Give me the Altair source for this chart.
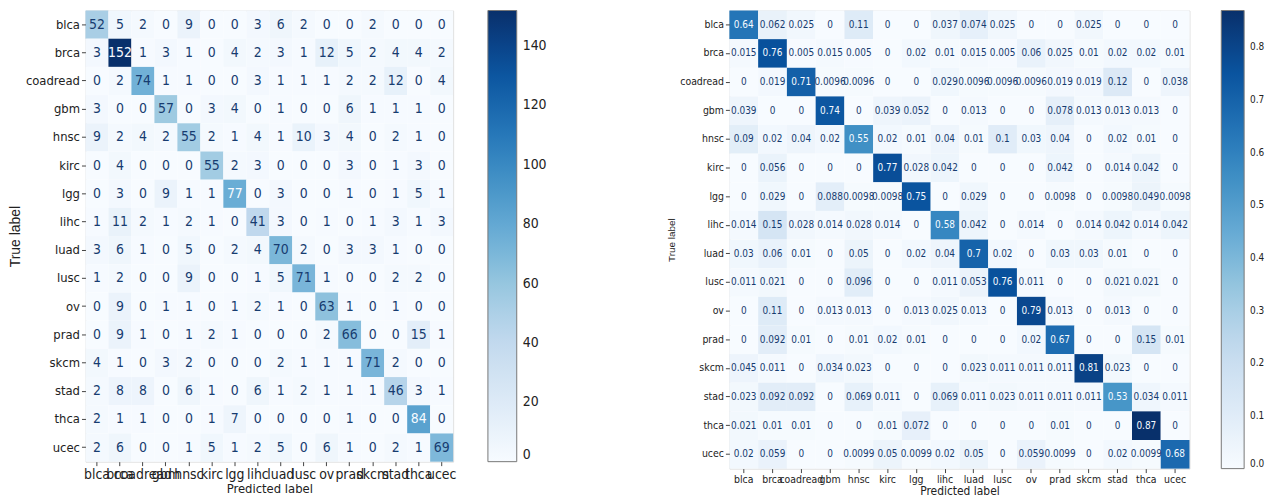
import altair as alt
import numpy as np
import pandas as pd

# Cancer types, in the order used on both axes
classes = ["blca", "brca", "coadread", "gbm", "hnsc", "kirc", "lgg", "lihc",
           "luad", "lusc", "ov", "prad", "skcm", "stad", "thca", "ucec"]

# Confusion matrix counts (rows = true label, columns = predicted label)
counts = [
    [52, 5, 2, 0, 9, 0, 0, 3, 6, 2, 0, 0, 2, 0, 0, 0],
    [3, 152, 1, 3, 1, 0, 4, 2, 3, 1, 12, 5, 2, 4, 4, 2],
    [0, 2, 74, 1, 1, 0, 0, 3, 1, 1, 1, 2, 2, 12, 0, 4],
    [3, 0, 0, 57, 0, 3, 4, 0, 1, 0, 0, 6, 1, 1, 1, 0],
    [9, 2, 4, 2, 55, 2, 1, 4, 1, 10, 3, 4, 0, 2, 1, 0],
    [0, 4, 0, 0, 0, 55, 2, 3, 0, 0, 0, 3, 0, 1, 3, 0],
    [0, 3, 0, 9, 1, 1, 77, 0, 3, 0, 0, 1, 0, 1, 5, 1],
    [1, 11, 2, 1, 2, 1, 0, 41, 3, 0, 1, 0, 1, 3, 1, 3],
    [3, 6, 1, 0, 5, 0, 2, 4, 70, 2, 0, 3, 3, 1, 0, 0],
    [1, 2, 0, 0, 9, 0, 0, 1, 5, 71, 1, 0, 0, 2, 2, 0],
    [0, 9, 0, 1, 1, 0, 1, 2, 1, 0, 63, 1, 0, 1, 0, 0],
    [0, 9, 1, 0, 1, 2, 1, 0, 0, 0, 2, 66, 0, 0, 15, 1],
    [4, 1, 0, 3, 2, 0, 0, 0, 2, 1, 1, 1, 71, 2, 0, 0],
    [2, 8, 8, 0, 6, 1, 0, 6, 1, 2, 1, 1, 1, 46, 3, 1],
    [2, 1, 1, 0, 0, 1, 7, 0, 0, 0, 0, 1, 0, 0, 84, 0],
    [2, 6, 0, 0, 1, 5, 1, 2, 5, 0, 6, 1, 0, 2, 1, 69],
]

# Row-normalised confusion matrix
normalized = [
    [0.64, 0.062, 0.025, 0, 0.11, 0, 0, 0.037, 0.074, 0.025, 0, 0, 0.025, 0, 0, 0],
    [0.015, 0.76, 0.005, 0.015, 0.005, 0, 0.02, 0.01, 0.015, 0.005, 0.06, 0.025, 0.01, 0.02, 0.02, 0.01],
    [0, 0.019, 0.71, 0.0096, 0.0096, 0, 0, 0.029, 0.0096, 0.0096, 0.0096, 0.019, 0.019, 0.12, 0, 0.038],
    [0.039, 0, 0, 0.74, 0, 0.039, 0.052, 0, 0.013, 0, 0, 0.078, 0.013, 0.013, 0.013, 0],
    [0.09, 0.02, 0.04, 0.02, 0.55, 0.02, 0.01, 0.04, 0.01, 0.1, 0.03, 0.04, 0, 0.02, 0.01, 0],
    [0, 0.056, 0, 0, 0, 0.77, 0.028, 0.042, 0, 0, 0, 0.042, 0, 0.014, 0.042, 0],
    [0, 0.029, 0, 0.088, 0.0098, 0.0098, 0.75, 0, 0.029, 0, 0, 0.0098, 0, 0.0098, 0.049, 0.0098],
    [0.014, 0.15, 0.028, 0.014, 0.028, 0.014, 0, 0.58, 0.042, 0, 0.014, 0, 0.014, 0.042, 0.014, 0.042],
    [0.03, 0.06, 0.01, 0, 0.05, 0, 0.02, 0.04, 0.7, 0.02, 0, 0.03, 0.03, 0.01, 0, 0],
    [0.011, 0.021, 0, 0, 0.096, 0, 0, 0.011, 0.053, 0.76, 0.011, 0, 0, 0.021, 0.021, 0],
    [0, 0.11, 0, 0.013, 0.013, 0, 0.013, 0.025, 0.013, 0, 0.79, 0.013, 0, 0.013, 0, 0],
    [0, 0.092, 0.01, 0, 0.01, 0.02, 0.01, 0, 0, 0, 0.02, 0.67, 0, 0, 0.15, 0.01],
    [0.045, 0.011, 0, 0.034, 0.023, 0, 0, 0, 0.023, 0.011, 0.011, 0.011, 0.81, 0.023, 0, 0],
    [0.023, 0.092, 0.092, 0, 0.069, 0.011, 0, 0.069, 0.011, 0.023, 0.011, 0.011, 0.011, 0.53, 0.034, 0.011],
    [0.021, 0.01, 0.01, 0, 0, 0.01, 0.072, 0, 0, 0, 0, 0.01, 0, 0, 0.87, 0],
    [0.02, 0.059, 0, 0, 0.0099, 0.05, 0.0099, 0.02, 0.05, 0, 0.059, 0.0099, 0, 0.02, 0.0099, 0.68],
]

BLUES = ["#f7fbff", "#deebf7", "#c6dbef", "#9ecae1", "#6baed6",
         "#4292c6", "#2171b5", "#08519c", "#08306b"]
NARROW = "Liberation Sans Narrow, DejaVu Sans Condensed, DejaVu Sans"
TEXT = "#222222"
DARK_CELL_TEXT = "#173c70"
LIGHT_CELL_TEXT = "#f7fbff"


def long_table(matrix):
    rows = []
    for i, t in enumerate(classes):
        for j, p in enumerate(classes):
            rows.append({"true": t, "pred": p, "value": matrix[i][j]})
    return pd.DataFrame(rows)


def panel(matrix, width, height, label_size, xlabel_size, cell_size, title_size,
          ytitle_size, legend_values, legend_format, legend_offset,
          legend_thickness, legend_label_size, cell_format):
    df = long_table(matrix)
    vmax = float(np.max(matrix))
    vmin = float(np.min(matrix))
    stops = list(np.linspace(vmin, vmax, len(BLUES)))
    threshold = (vmax + vmin) / 2.0

    x_enc = alt.X("pred:O", sort=classes, scale=alt.Scale(paddingInner=0, paddingOuter=0),
                  axis=alt.Axis(title="Predicted label", labelAngle=0, labelFont=NARROW,
                                labelFontSize=xlabel_size, labelColor=TEXT, labelOverlap=False,
                                labelPadding=2, tickSize=4, tickColor="#444", domain=False,
                                titleFont=NARROW, titleFontSize=title_size,
                                titleFontWeight="normal", titleColor=TEXT, titlePadding=1))
    y_enc = alt.Y("true:O", sort=classes, scale=alt.Scale(paddingInner=0, paddingOuter=0),
                  axis=alt.Axis(title="True label", labelFont=NARROW, labelFontSize=label_size,
                                labelColor=TEXT, labelPadding=2, tickSize=4, tickColor="#444",
                                domain=False, titleFont="Liberation Sans",
                                titleFontSize=ytitle_size, titleFontWeight="normal",
                                titleColor=TEXT, titlePadding=3))

    cells = alt.Chart(df).mark_rect().encode(
        x=x_enc, y=y_enc,
        color=alt.Color("value:Q",
                        scale=alt.Scale(domain=stops, range=BLUES),
                        legend=alt.Legend(title=None, orient="right", values=legend_values,
                                          format=legend_format, offset=legend_offset,
                                          gradientLength=height,
                                          gradientThickness=legend_thickness,
                                          gradientStrokeColor="#777", gradientStrokeWidth=1,
                                          labelFont=NARROW, labelFontSize=legend_label_size,
                                          labelColor=TEXT, labelOffset=6, labelOverlap=False,
                                          padding=0)),
    )
    labels = alt.Chart(df).mark_text(font=NARROW, fontSize=cell_size).encode(
        x=alt.X("pred:O", sort=classes),
        y=alt.Y("true:O", sort=classes),
        text=alt.Text("value:Q", format=cell_format),
        color=alt.condition(alt.datum.value > threshold,
                            alt.value(LIGHT_CELL_TEXT), alt.value(DARK_CELL_TEXT)),
    )
    return (cells + labels).properties(width=width, height=height)


left = panel(counts, 370, 454, 13, 14, 14, 13, 14,
             [0, 20, 40, 60, 80, 100, 120, 140], "d", 35, 29, 14, "d")
right = panel(normalized, 463, 461, 10.5, 10.5, 10, 12, 10,
              [0.0, 0.1, 0.2, 0.3, 0.4, 0.5, 0.6, 0.7, 0.8], ".1f", 32, 23, 10, "~g")

chart = alt.hconcat(left, right, spacing=118).resolve_scale(
    color="independent", x="independent", y="independent"
).properties(
    padding={"left": 8, "top": 8, "right": 0, "bottom": 0}
).configure_view(stroke="#777", strokeWidth=1).configure(background="white")

chart.save("out.html", embed_options={"renderer": "svg", "actions": False})
